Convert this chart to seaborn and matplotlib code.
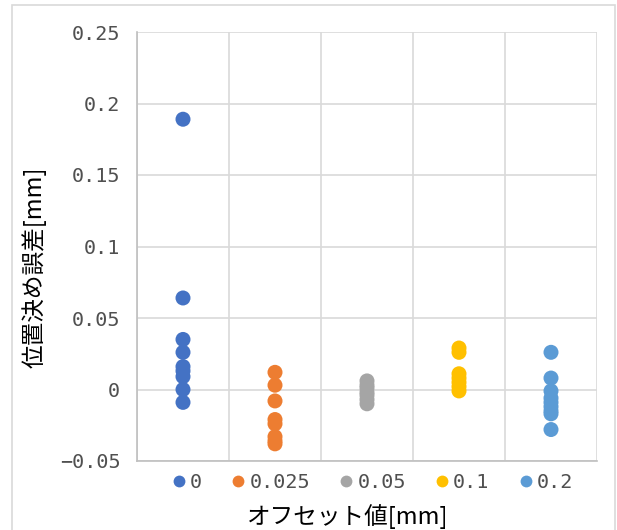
import numpy as np
import pandas as pd
import matplotlib
matplotlib.use("Agg")
import matplotlib.pyplot as plt
from matplotlib.lines import Line2D
from matplotlib.patches import Rectangle
import seaborn as sns

# Offset values (legend / categories)
offset_labels = ["0", "0.025", "0.05", "0.1", "0.2"]

# Positioning error [mm] per offset
err_0 = [0.189, 0.064, 0.035, 0.026, 0.016, 0.013, 0.009, 0.000, -0.009]
err_0025 = [0.012, 0.003, -0.008, -0.021, -0.024, -0.033, -0.036, -0.038]
err_005 = [0.006, 0.003, 0.001, -0.002, -0.004, -0.007, -0.010]
err_01 = [0.029, 0.026, 0.011, 0.008, 0.005, 0.002, -0.001]
err_02 = [0.026, 0.008, -0.001, -0.006, -0.009, -0.012, -0.015, -0.017, -0.028]

ytick_values = [-0.05, 0.0, 0.05, 0.1, 0.15, 0.2, 0.25]
ytick_labels = ["\u22120.05", "0", "0.05", "0.1", "0.15", "0.2", "0.25"]

colors = ["#4472C4", "#ED7D31", "#A5A5A5", "#FFC000", "#5B9BD5"]

series = [err_0, err_0025, err_005, err_01, err_02]
df = pd.DataFrame({
    "offset": np.repeat(offset_labels, [len(s) for s in series]),
    "error": np.concatenate(series),
})

sns.set_theme(style="white")
plt.rcParams["font.family"] = ["Noto Sans CJK JP", "DejaVu Sans"]

fig = plt.figure(figsize=(6.17, 5.30), dpi=100)
ax = fig.add_axes([137 / 617, 69 / 530, 460 / 617, 429 / 530])

sns.stripplot(data=df, x="offset", y="error", hue="offset",
              order=offset_labels, hue_order=offset_labels,
              palette=colors, jitter=False, size=10.8, linewidth=0,
              legend=False, ax=ax, zorder=3)

ax.set_xlim(-0.5, len(offset_labels) - 0.5)
ax.set_ylim(-0.05, 0.25)
ax.set_xticks(np.arange(len(offset_labels) + 1) - 0.5)
ax.set_xticklabels([])
ax.set_yticks(ytick_values)
ax.set_yticklabels(ytick_labels, family="DejaVu Sans Mono", fontsize=14.5,
                   color="#505050")
ax.tick_params(axis="x", length=0)
ax.tick_params(axis="y", length=2, width=1, color="#BFBFBF", pad=10)
ax.grid(True, color="#D9D9D9", linewidth=1.2)
ax.set_axisbelow(True)
for side in ["top", "right"]:
    ax.spines[side].set_visible(False)
for side in ["left", "bottom"]:
    ax.spines[side].set_color("#BFBFBF")
    ax.spines[side].set_linewidth(1.2)
ax.set_xlabel("")
ax.set_ylabel("")

# Legend row beneath the plot
handles = [Line2D([], [], marker="o", linestyle="", markersize=8.5,
                  markerfacecolor=c, markeredgewidth=0) for c in colors]
leg = fig.legend(handles, offset_labels, loc="center",
                 bbox_to_anchor=(372 / 617, 47 / 530), ncol=5, frameon=False,
                 handlelength=0.8, handletextpad=0.15, columnspacing=1.4,
                 prop={"family": "DejaVu Sans Mono", "size": 14.5})
for t in leg.get_texts():
    t.set_color("#505050")

fig.text(348 / 617, 13 / 530, "オフセット値[mm]", ha="center", va="center",
         fontsize=17, color="black")
fig.text(34 / 617, 263 / 530, "位置決め誤差[mm]", ha="center", va="center",
         rotation=90, fontsize=17, color="black")

# Chart area border
fig.patches.append(Rectangle((12 / 617, -0.01), 603 / 617, 1.01 - 5 / 530,
                             transform=fig.transFigure, fill=False,
                             edgecolor="#D9D9D9", linewidth=1.2))

fig.savefig("out.png", dpi=100)
